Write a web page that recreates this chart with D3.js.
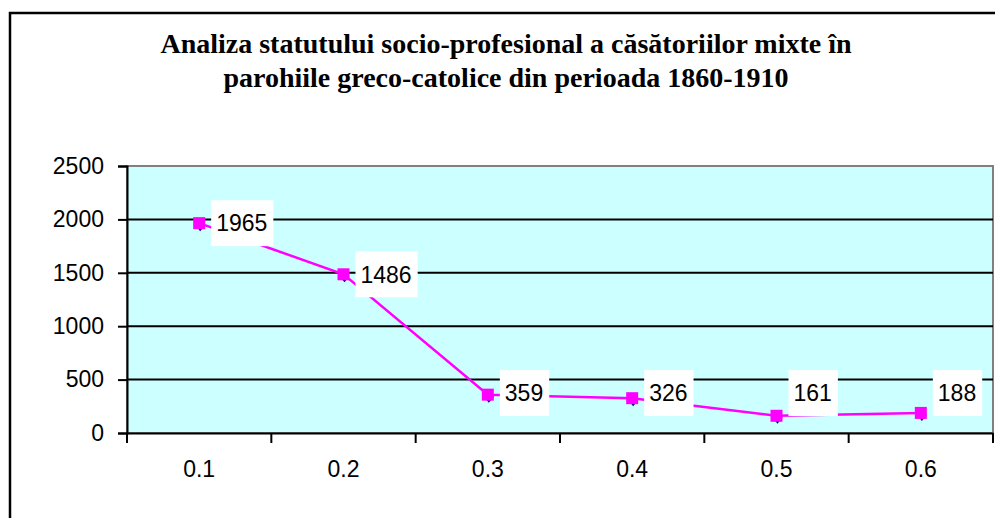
<!DOCTYPE html>
<html>
<head>
<meta charset="utf-8">
<script src="https://cdn.jsdelivr.net/npm/d3@7"></script>
<style>
  body { margin: 0; background: #fff; }
  svg { display: block; }
</style>
</head>
<body>
<div id="wrapper"></div>
<script>
const categories = ["0.1", "0.2", "0.3", "0.4", "0.5", "0.6"];
const pinkValues = [1965, 1486, 359, 326, 161, 188];
const blueValues = [1965, 1486, 359, 326, 161, 188];
const yTicks = [0, 500, 1000, 1500, 2000, 2500];
const titleLines = [
  "Analiza statutului socio-profesional a căsătoriilor mixte în",
  "parohiile greco-catolice din perioada 1860-1910"
];

const width = 995;
const height = 518;
const plot = { left: 127, right: 993, top: 166, bottom: 433 };
const numFont = "'Liberation Sans', Arial, sans-serif";

const svg = d3.select("#wrapper")
  .append("svg")
  .attr("width", width)
  .attr("height", height);

// outer chart border
svg.append("rect")
  .attr("x", 10).attr("y", 13)
  .attr("width", width + 10).attr("height", height + 10)
  .attr("fill", "#fff")
  .attr("stroke", "#000")
  .attr("stroke-width", 2.5);

// title
svg.append("g")
  .selectAll("text")
  .data(titleLines)
  .join("text")
  .attr("x", 506)
  .attr("y", (d, i) => 53 + i * 34)
  .attr("text-anchor", "middle")
  .style("font-family", "'Liberation Serif', 'Times New Roman', serif")
  .style("font-weight", "bold")
  .style("font-size", "28px")
  .text((d) => d);

const xScale = d3.scaleBand()
  .domain(categories)
  .range([plot.left, plot.right]);

const yScale = d3.scaleLinear()
  .domain([0, 2500])
  .range([plot.bottom, plot.top]);

// plot background
svg.append("rect")
  .attr("x", plot.left).attr("y", plot.top)
  .attr("width", plot.right - plot.left)
  .attr("height", plot.bottom - plot.top)
  .attr("fill", "#ccffff")
  .attr("stroke", "#808080")
  .attr("stroke-width", 2);

// gridlines
svg.append("g")
  .selectAll("line")
  .data(yTicks.filter((d) => d > 0 && d < 2500))
  .join("line")
  .attr("x1", plot.left).attr("x2", plot.right)
  .attr("y1", (d) => yScale(d)).attr("y2", (d) => yScale(d))
  .attr("stroke", "#000")
  .attr("stroke-width", 2);

const yAxis = d3.axisLeft(yScale)
  .tickValues(yTicks)
  .tickSize(9)
  .tickPadding(14)
  .tickFormat(d3.format("d"));

svg.append("g")
  .attr("transform", `translate(${plot.left},0)`)
  .call(yAxis)
  .call((g) => g.select(".domain").attr("stroke-width", 2))
  .call((g) => g.selectAll(".tick line").attr("stroke-width", 2))
  .selectAll("text")
  .style("font-family", numFont)
  .style("font-size", "23px")
  .attr("fill", "#000");

const xAxis = d3.axisBottom(xScale)
  .tickSize(0)
  .tickPadding(28)
  .tickSizeOuter(0);

const xg = svg.append("g")
  .attr("transform", `translate(0,${plot.bottom})`)
  .call(xAxis);
xg.select(".domain").attr("stroke-width", 2);
xg.selectAll("text")
  .style("font-family", numFont)
  .style("font-size", "23px")
  .attr("fill", "#000");

// tick marks between categories
svg.append("g")
  .selectAll("line")
  .data(categories.concat(["end"]))
  .join("line")
  .attr("x1", (d, i) => i < categories.length ? xScale(d) : plot.right)
  .attr("x2", (d, i) => i < categories.length ? xScale(d) : plot.right)
  .attr("y1", plot.bottom)
  .attr("y2", plot.bottom + 10)
  .attr("stroke", "#000")
  .attr("stroke-width", 2);

const cx = (i) => xScale(categories[i]) + xScale.bandwidth() / 2;

// blue diamond series (mostly hidden under the pink one)
svg.append("g")
  .selectAll("path")
  .data(blueValues)
  .join("path")
  .attr("transform", (d, i) => `translate(${cx(i) + 1},${yScale(d) + 2})`)
  .attr("d", "M0,-6L5,0L0,6L-5,0Z")
  .attr("fill", "#000080");

const line = d3.line()
  .x((d, i) => cx(i))
  .y((d) => yScale(d));

svg.append("path")
  .datum(pinkValues)
  .attr("d", line)
  .attr("fill", "none")
  .attr("stroke", "#ff00ff")
  .attr("stroke-width", 2.5);

svg.append("g")
  .selectAll("rect")
  .data(pinkValues)
  .join("rect")
  .attr("x", (d, i) => cx(i) - 6)
  .attr("y", (d) => yScale(d) - 6)
  .attr("width", 12)
  .attr("height", 12)
  .attr("fill", "#ff00ff");

// data labels in white boxes, kept inside the plot area
const labelG = svg.append("g")
  .selectAll("g")
  .data(pinkValues)
  .join("g")
  .attr("transform", (d, i) => `translate(${cx(i) + 12},${Math.min(yScale(d), 393)})`);

labelG.append("text")
  .attr("x", 5)
  .attr("dy", "0.36em")
  .style("font-family", numFont)
  .style("font-size", "23px")
  .text((d) => d)
  .each(function () {
    const w = this.getComputedTextLength();
    d3.select(this.parentNode)
      .insert("rect", "text")
      .attr("x", 0)
      .attr("y", -23)
      .attr("width", w + 11)
      .attr("height", 46)
      .attr("fill", "#fff");
  });
</script>
</body>
</html>
